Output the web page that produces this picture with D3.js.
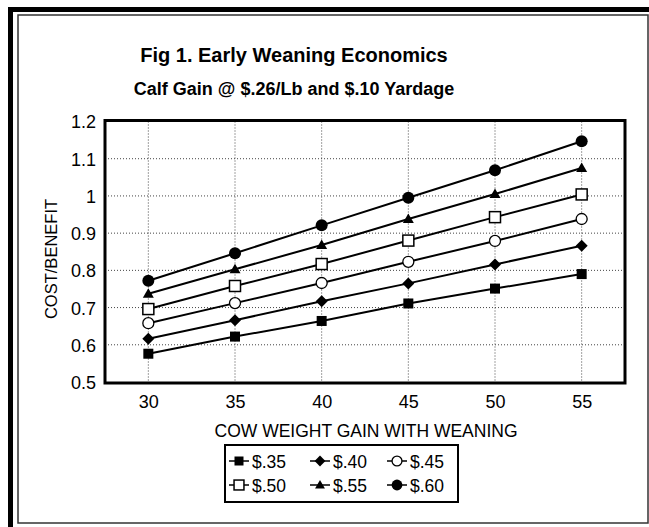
<!DOCTYPE html>
<html><head><meta charset="utf-8">
<script src="https://cdn.jsdelivr.net/npm/d3@7"></script>
<style>body{margin:0;background:#fff}svg{display:block}text{font-family:"Liberation Sans",Arial,sans-serif;fill:#000}</style>
</head><body><svg id="c" width="649" height="527"></svg>
<script>
const categories = [30, 35, 40, 45, 50, 55];
const yTicks = [0.5, 0.6, 0.7, 0.8, 0.9, 1, 1.1, 1.2];
const s35 = [0.576, 0.622, 0.664, 0.711, 0.751, 0.790];
const s40 = [0.616, 0.666, 0.717, 0.765, 0.816, 0.866];
const s45 = [0.658, 0.712, 0.766, 0.823, 0.879, 0.938];
const s50 = [0.696, 0.758, 0.817, 0.880, 0.943, 1.004];
const s55 = [0.737, 0.803, 0.868, 0.938, 1.005, 1.075];
const s60 = [0.772, 0.846, 0.921, 0.995, 1.069, 1.147];
const seriesNames = ["$.35", "$.40", "$.45", "$.50", "$.55", "$.60"];
const seriesValues = [s35, s40, s45, s50, s55, s60];
const markers = ["sqFill", "diamond", "circOpen", "sqOpen", "triangle", "circFill"];

const svg = d3.select("#c");
// outer frame
svg.append("rect").attr("x", 18).attr("y", 15).attr("width", 630).attr("height", 508)
  .attr("fill", "none").attr("stroke", "#333").attr("stroke-width", 1.5);
svg.append("path").attr("d", "M10.5,527 V9.5 H649").attr("fill", "none").attr("stroke", "#000").attr("stroke-width", 5);

const L = 105, R = 625, T = 121.5, B = 382;
const x = d3.scalePoint().domain(categories).range([L, R]).padding(0.5);
const y = d3.scaleLinear().domain([0.5, 1.2]).range([B, T]);

// titles
svg.append("text").attr("x", 294).attr("y", 62).attr("text-anchor", "middle")
  .style("font-weight", "bold").style("font-size", "20px").text("Fig 1. Early Weaning Economics");
svg.append("text").attr("x", 294).attr("y", 95).attr("text-anchor", "middle")
  .style("font-weight", "bold").style("font-size", "18px").text("Calf Gain @ $.26/Lb and $.10 Yardage");

// gridlines
const g = svg.append("g");
g.selectAll(".hg").data(yTicks.filter(d => d > 0.5 && d < 1.2)).join("line")
  .attr("x1", L).attr("x2", R).attr("y1", d => y(d)).attr("y2", d => y(d))
  .attr("stroke", "#444").attr("stroke-width", 1).attr("stroke-dasharray", "1,2");
g.selectAll(".vg").data(categories).join("line")
  .attr("x1", d => x(d)).attr("x2", d => x(d)).attr("y1", T).attr("y2", B)
  .attr("stroke", "#444").attr("stroke-width", 1).attr("stroke-dasharray", "1,2");

// axes labels via d3 axes
const yAxis = svg.append("g").attr("transform", `translate(${L - 9},0)`)
  .call(d3.axisLeft(y).tickValues(yTicks).tickFormat(d => String(d)).tickSize(0).tickPadding(0));
yAxis.select(".domain").remove();
yAxis.selectAll("text").style("font-size", "18px").style("font-family", '"Liberation Sans",Arial,sans-serif').attr("fill", "#000").attr("dy", "0.36em");

const xAxis = svg.append("g").attr("transform", `translate(0,${B})`)
  .call(d3.axisBottom(x).tickSize(0).tickPadding(0));
xAxis.select(".domain").remove();
xAxis.selectAll("text").style("font-size", "18px").style("font-family", '"Liberation Sans",Arial,sans-serif').attr("fill", "#000").attr("y", 26).attr("dy", 0);

svg.append("text").attr("x", 366).attr("y", 437).attr("text-anchor", "middle")
  .style("font-size", "17.5px").text("COW WEIGHT GAIN WITH WEANING");
svg.append("text").attr("transform", "translate(57,259) rotate(-90)").attr("text-anchor", "middle")
  .style("font-size", "16.5px").text("COST/BENEFIT");

// marker drawer
function drawMarker(sel, type, size) {
  const k = size || 1;
  if (type === "sqFill") sel.append("rect").attr("x", -5 * k).attr("y", -5 * k).attr("width", 10 * k).attr("height", 10 * k).attr("fill", "#000");
  if (type === "sqOpen") sel.append("rect").attr("x", -5.5 * k).attr("y", -5.5 * k).attr("width", 11 * k).attr("height", 11 * k).attr("fill", "#fff").attr("stroke", "#000").attr("stroke-width", 1.5);
  if (type === "diamond") sel.append("path").attr("d", `M0,${-6 * k}L${6 * k},0L0,${6 * k}L${-6 * k},0Z`).attr("fill", "#000");
  if (type === "circOpen") sel.append("circle").attr("r", 5.5 * k).attr("fill", "#fff").attr("stroke", "#000").attr("stroke-width", 1.3);
  if (type === "circFill") sel.append("circle").attr("r", 6 * k).attr("fill", "#000");
  if (type === "triangle") sel.append("path").attr("d", `M0,${-5.5 * k}L${5.5 * k},${4 * k}L${-5.5 * k},${4 * k}Z`).attr("fill", "#000");
}

const line = d3.line().x((d, i) => x(categories[i])).y(d => y(d));
seriesValues.forEach((vals, si) => {
  svg.append("path").datum(vals).attr("d", line).attr("fill", "none").attr("stroke", "#000").attr("stroke-width", 2);
});
seriesValues.forEach((vals, si) => {
  vals.forEach((v, i) => {
    const m = svg.append("g").attr("transform", `translate(${x(categories[i])},${y(v)})`);
    drawMarker(m, markers[si]);
  });
});

// plot frame
svg.append("rect").attr("x", L).attr("y", T - 1).attr("width", R - L).attr("height", B - T + 2)
  .attr("fill", "none").attr("stroke", "#000").attr("stroke-width", 3);

// legend
svg.append("rect").attr("x", 225).attr("y", 445).attr("width", 233).attr("height", 57)
  .attr("fill", "none").attr("stroke", "#000").attr("stroke-width", 2);
const colX = [239, 320, 397];
const rowY = [461, 485];
seriesNames.forEach((name, i) => {
  const cx = colX[i % 3], cy = rowY[Math.floor(i / 3)];
  const lg = svg.append("g").attr("transform", `translate(${cx},${cy})`);
  lg.append("line").attr("x1", -10).attr("x2", 10).attr("stroke", "#000").attr("stroke-width", 1.5);
  drawMarker(lg, markers[i], 0.9);
  svg.append("text").attr("x", cx + 13).attr("y", cy + 6.5).style("font-size", "17.5px").text(name);
});
</script></body></html>
